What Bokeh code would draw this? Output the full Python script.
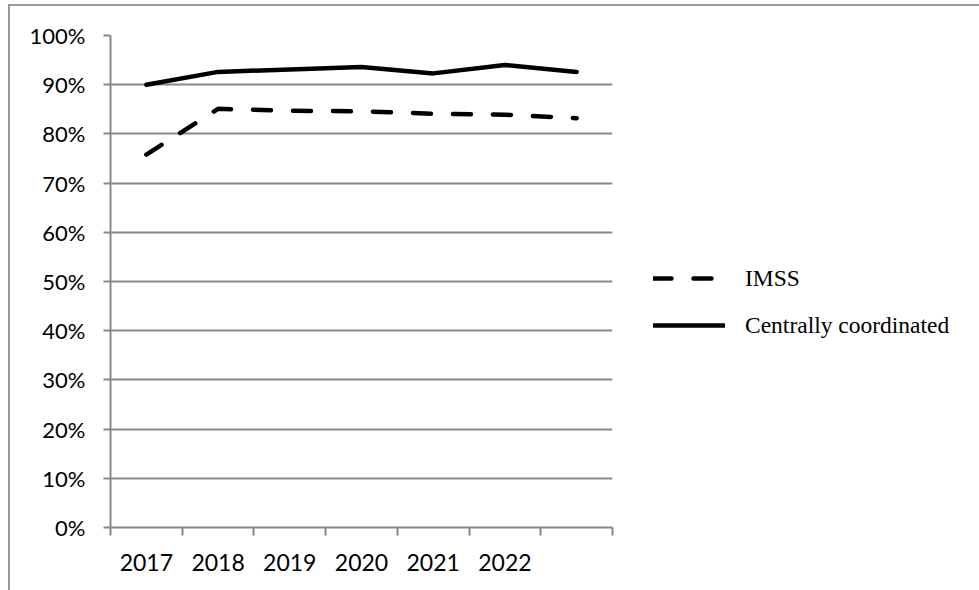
from bokeh.plotting import figure
from bokeh.models import Range1d, FixedTicker, PrintfTickFormatter, Legend, LegendItem
from bokeh.embed import file_html
from bokeh.resources import INLINE

# ---- data ----
years = ["2017", "2018", "2019", "2020", "2021", "2022", ""]
imss = [75.8, 85.1, 84.7, 84.6, 84.1, 83.9, 83.2]
central = [90.0, 92.6, 93.1, 93.6, 92.3, 94.0, 92.6]
y_ticks = [0, 10, 20, 30, 40, 50, 60, 70, 80, 90, 100]
series_names = ["IMSS", "Centrally coordinated"]

GRAY = "#888888"
AXIS_FONT = "Lato"
OFF_X, OFF_Y = 10, 6  # outer frame border offset

x = [i + 0.5 for i in range(len(years))]

p = figure(frame_width=502, frame_height=492, output_backend="svg", toolbar_location=None,
           x_range=Range1d(0, len(years)), y_range=Range1d(0, 100),
           min_border_left=110 - OFF_X, min_border_right=367,
           min_border_top=35 - OFF_Y, min_border_bottom=63)
p.outline_line_color = None
p.background_fill_color = "white"
p.border_fill_color = "white"
p.styles = {"margin-left": "8px", "margin-top": "4px",
            "border-left": "2px solid #9a9a9a", "border-top": "2px solid #9a9a9a"}

r1 = p.line(x, imss, line_color="black", line_width=4.5, line_dash="18 22",
            line_cap="round", line_join="round")
r2 = p.line(x, central, line_color="black", line_width=4.5,
            line_cap="round", line_join="round")

# x axis: labels at category centres, ticks at category boundaries
xa = p.xaxis[0]
xa.ticker = FixedTicker(ticks=x, minor_ticks=list(range(len(years) + 1)))
xa.major_label_overrides = {xi: yr for xi, yr in zip(x, years)}
xa.major_tick_line_color = None
xa.major_tick_out = 0
xa.major_tick_in = 0
xa.minor_tick_out = 8
xa.minor_tick_in = 0
xa.minor_tick_line_color = GRAY
xa.minor_tick_line_width = 2
xa.axis_line_color = GRAY
xa.axis_line_width = 2
xa.major_label_standoff = 18
xa.major_label_text_font = AXIS_FONT
xa.major_label_text_font_size = "23px"
xa.major_label_text_color = "black"

ya = p.yaxis[0]
ya.ticker = FixedTicker(ticks=y_ticks, minor_ticks=[])
ya.formatter = PrintfTickFormatter(format="%d%%")
ya.major_tick_out = 7
ya.major_tick_in = 0
ya.major_tick_line_color = GRAY
ya.major_tick_line_width = 2
ya.minor_tick_line_color = None
ya.axis_line_color = GRAY
ya.axis_line_width = 2
ya.major_label_standoff = 18
ya.major_label_text_font = AXIS_FONT
ya.major_label_text_font_size = "22px"
ya.major_label_text_color = "black"

p.xgrid.visible = False
p.ygrid.ticker = FixedTicker(ticks=y_ticks)
p.ygrid.grid_line_color = GRAY
p.ygrid.grid_line_width = 2

legend = Legend(items=[LegendItem(label=series_names[0], renderers=[r1]),
                       LegendItem(label=series_names[1], renderers=[r2])],
                location=(41, 188), orientation="vertical",
                glyph_width=72, glyph_height=28, label_height=28,
                label_standoff=20, spacing=19, padding=0, margin=0,
                border_line_color=None, background_fill_alpha=0,
                label_text_font="Liberation Serif", label_text_font_size="23.5px",
                label_text_color="black")
p.add_layout(legend, "right")

open("out.html", "w").write(file_html(p, INLINE))
